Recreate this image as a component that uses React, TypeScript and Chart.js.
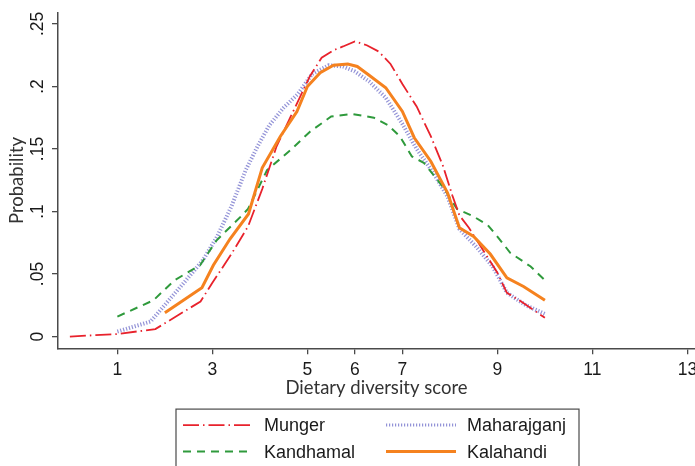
import React, { useEffect, useRef } from "react";
import { Chart, registerables } from "chart.js";

Chart.register(...registerables);

// ---- Data ----
const mungerX = [0, 1, 1.8, 2.75, 3.0, 3.4, 3.75, 4.05, 4.35, 4.65, 5.05, 5.3, 5.55, 5.75, 6.0, 6.25, 6.5, 6.75, 7.0, 7.3, 7.6, 7.85, 8.05, 8.2, 8.4, 8.7, 9.0, 9.2, 9.5, 10.0];
const mungerY = [0, 0.002, 0.006, 0.028, 0.043, 0.066, 0.088, 0.118, 0.152, 0.176, 0.208, 0.223, 0.229, 0.232, 0.236, 0.233, 0.228, 0.218, 0.202, 0.184, 0.16, 0.137, 0.113, 0.097, 0.087, 0.069, 0.051, 0.035, 0.028, 0.015];

const maharajganjX = [1, 1.7, 1.97, 2.4, 2.8, 3.1, 3.4, 3.7, 3.95, 4.2, 4.5, 4.8, 5.1, 5.45, 5.75, 6.0, 6.3, 6.65, 7.0, 7.3, 7.65, 7.95, 8.2, 8.55, 8.9, 9.2, 9.6, 10];
const maharajganjY = [0.004, 0.012, 0.024, 0.043, 0.061, 0.08, 0.104, 0.133, 0.152, 0.169, 0.183, 0.194, 0.21, 0.217, 0.216, 0.212, 0.204, 0.191, 0.17, 0.15, 0.131, 0.112, 0.086, 0.072, 0.056, 0.035, 0.025, 0.018];

const kandhamalX = [1, 1.76, 2.2, 2.74, 3.09, 3.6, 3.75, 4.15, 4.64, 5.06, 5.5, 5.95, 6.4, 6.7, 6.95, 7.2, 7.45, 7.85, 8.15, 8.5, 8.8, 9.0, 9.27, 9.7, 10];
const kandhamalY = [0.016, 0.029, 0.045, 0.057, 0.077, 0.096, 0.102, 0.133, 0.149, 0.164, 0.176, 0.178, 0.175, 0.169, 0.16, 0.144, 0.139, 0.12, 0.102, 0.096, 0.089, 0.08, 0.067, 0.056, 0.045];

const kalahandiX = [2, 2.78, 3.02, 3.37, 3.76, 4.05, 4.43, 4.78, 5.0, 5.27, 5.55, 5.85, 6.05, 6.3, 6.65, 7.0, 7.25, 7.6, 7.95, 8.2, 8.5, 8.85, 9.2, 9.55, 10];
const kalahandiY = [0.019, 0.039, 0.057, 0.078, 0.098, 0.135, 0.16, 0.18, 0.2, 0.211, 0.217, 0.218, 0.216, 0.209, 0.199, 0.18, 0.159, 0.14, 0.115, 0.087, 0.08, 0.066, 0.047, 0.04, 0.029];

const xTickValues = [1, 3, 5, 6, 7, 9, 11, 13];
const yTickValues = [0, 0.05, 0.1, 0.15, 0.2, 0.25];
const yTickLabels = ["0", ".05", ".1", ".15", ".2", ".25"];

const xTitle = "Dietary diversity score";
const yTitle = "Probability";

const legendOrder = [
  ["Munger", "Maharajganj"],
  ["Kandhamal", "Kalahandi"],
];

const pts = (xs: number[], ys: number[]) => xs.map((x, i) => ({ x, y: ys[i] }));

const AXIS_COLOR = "#4a4a4a";
const TEXT_COLOR = "#1a1a1a";

const boxLegend = {
  id: "boxLegend",
  afterDraw(chart: any) {
    const { ctx, chartArea } = chart;
    const xs = chart.scales.x;
    const cx = (chartArea.left + chartArea.right) / 2;
    const boxL = cx - 200.5;
    const boxR = cx + 202.5;
    const top = xs.bottom + 10;
    ctx.save();
    ctx.strokeStyle = AXIS_COLOR;
    ctx.lineWidth = 1.2;
    ctx.strokeRect(boxL, top, boxR - boxL, 80);
    const rowY = [top + 16, top + 42.5];
    const colSample = [boxL + 7, boxL + 210];
    const sampleW = 70;
    const colText = [boxL + 88, boxL + 291];
    ctx.font = "18px 'Liberation Sans', Arial, sans-serif";
    ctx.textBaseline = "middle";
    ctx.textAlign = "left";
    legendOrder.forEach((row, r) => {
      row.forEach((label, c) => {
        const ds = chart.data.datasets.find((d: any) => d.label === label);
        if (!ds) return;
        ctx.save();
        ctx.strokeStyle = ds.borderColor;
        ctx.lineWidth = label === "Maharajganj" ? 3 : ds.borderWidth;
        ctx.setLineDash(ds.borderDash || []);
        ctx.beginPath();
        ctx.moveTo(colSample[c], rowY[r]);
        ctx.lineTo(colSample[c] + sampleW, rowY[r]);
        ctx.stroke();
        ctx.restore();
        ctx.fillStyle = TEXT_COLOR;
        ctx.fillText(label, colText[c], rowY[r] + 1);
      });
    });
    ctx.restore();
  },
};

export default function App() {
  const ref = useRef<HTMLCanvasElement | null>(null);

  useEffect(() => {
    document.body.style.margin = "0";
    if (!ref.current) return;
    const chart = new Chart(ref.current, {
      type: "line",
      data: {
        datasets: [
          {
            label: "Kalahandi",
            data: pts(kalahandiX, kalahandiY),
            borderColor: "#f5821f",
            borderWidth: 3,
            borderDash: [],
            pointRadius: 0,
            tension: 0,
            fill: false,
          },
          {
            label: "Munger",
            data: pts(mungerX, mungerY),
            borderColor: "#e8222c",
            borderWidth: 1.8,
            borderDash: [16, 4, 1.5, 4],
            pointRadius: 0,
            tension: 0,
            fill: false,
          },
          {
            label: "Kandhamal",
            data: pts(kandhamalX, kandhamalY),
            borderColor: "#2f9a3c",
            borderWidth: 2,
            borderDash: [8, 6],
            pointRadius: 0,
            tension: 0,
            fill: false,
          },
          {
            label: "Maharajganj",
            data: pts(maharajganjX, maharajganjY),
            borderColor: "rgba(120,120,205,0.8)",
            borderWidth: 4,
            borderDash: [1.2, 1.8],
            pointRadius: 0,
            tension: 0,
            fill: false,
          },
        ],
      },
      options: {
        animation: false,
        responsive: false,
        maintainAspectRatio: false,
        layout: { padding: { top: 12.7, right: 25, bottom: 66.9, left: 0 } },
        plugins: { legend: { display: false }, tooltip: { enabled: false } },
        scales: {
          x: {
            type: "linear",
            min: -0.25,
            max: 13.16,
            afterBuildTicks: (scale: any) => {
              scale.ticks = xTickValues.map((v) => ({ value: v }));
            },
            afterFit: (scale: any) => {
              scale.height = 50.8;
            },
            grid: { drawOnChartArea: false, drawTicks: true, tickLength: 6, color: AXIS_COLOR, lineWidth: 1.3 },
            border: { display: true, color: AXIS_COLOR, width: 1.5 },
            ticks: {
              color: TEXT_COLOR,
              font: { family: "'Liberation Sans', Arial, sans-serif", size: 17.5 },
              padding: 5,
              maxRotation: 0,
              autoSkip: false,
              callback: (v: any) => String(v),
            },
            title: {
              display: true,
              text: xTitle,
              color: "#333",
              font: { family: "Lato", size: 18.5 },
              padding: { top: 0, bottom: 0 },
            },
          },
          y: {
            type: "linear",
            min: -0.0094,
            max: 0.259,
            afterBuildTicks: (scale: any) => {
              scale.ticks = yTickValues.map((v) => ({ value: v }));
            },
            afterFit: (scale: any) => {
              scale.width = 58;
            },
            grid: { drawOnChartArea: false, drawTicks: true, tickLength: 6, color: AXIS_COLOR, lineWidth: 1.3 },
            border: { display: true, color: AXIS_COLOR, width: 1.5 },
            ticks: {
              color: TEXT_COLOR,
              font: { family: "'Liberation Sans', Arial, sans-serif", size: 17.5 },
              padding: 2,
              minRotation: 90,
              maxRotation: 90,
              crossAlign: "center",
              autoSkip: false,
              callback: (v: any) => {
                const i = yTickValues.findIndex((t) => Math.abs(t - Number(v)) < 1e-9);
                return i >= 0 ? yTickLabels[i] : "";
              },
            },
            title: {
              display: true,
              text: yTitle,
              color: "#333",
              font: { family: "Lato", size: 18.5 },
              padding: { top: 6, bottom: 0 },
            },
          },
        },
      },
      plugins: [boxLegend],
    } as any);
    return () => chart.destroy();
  }, []);

  return (
    <div style={{ width: 695, height: 466, overflow: "hidden", position: "relative" }}>
      <canvas ref={ref} width={720} height={466} style={{ width: 720, height: 466, display: "block" }} />
    </div>
  );
}
